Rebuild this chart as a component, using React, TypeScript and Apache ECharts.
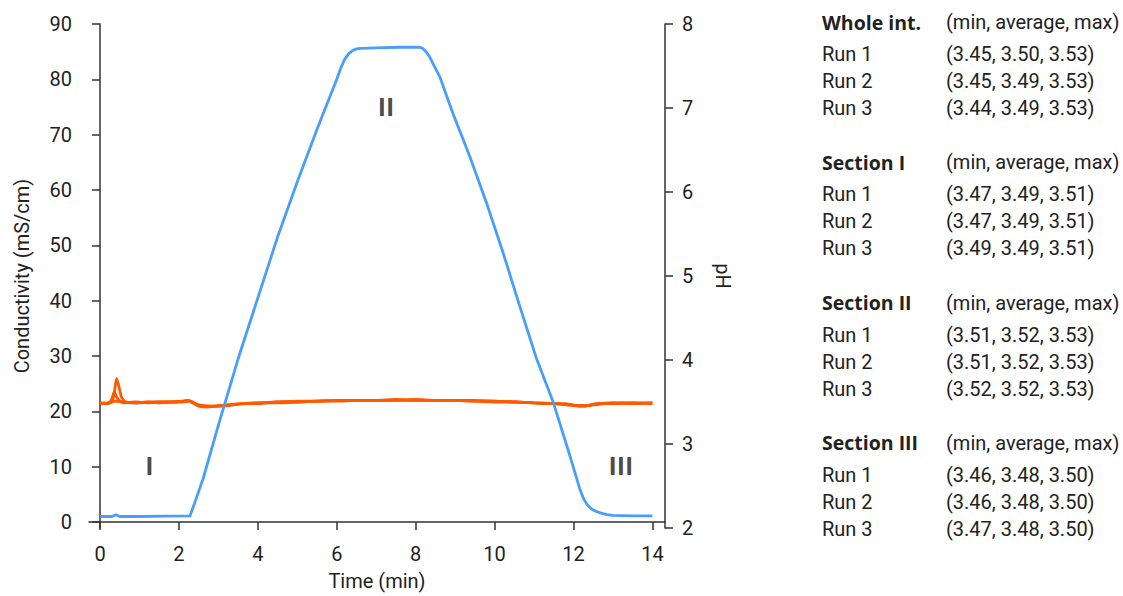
import React, { useEffect, useRef } from "react";
import * as echarts from "echarts";

const FONT = "Roboto";
const BOLD_FONT = "'Open Sans'";
const TEXT = "#222222";
const AXIS = "#333333";
const BLUE = "#4a9ef8";
const ORANGE = "#ff5a00";

const timeTicks = [0, 2, 4, 6, 8, 10, 12, 14];
const condTicks = [0, 10, 20, 30, 40, 50, 60, 70, 80, 90];

// Conductivity (mS/cm) vs time (min)
const conductivity: [number, number][] = [
  [0.0, 1.0], [0.3, 1.0], [0.4, 1.3], [0.5, 1.0], [1.0, 1.0], [1.6, 1.05], [2.28, 1.1],
  [2.45, 4.5], [2.62, 8.0], [3.0, 17.5], [3.5, 29.5], [4.0, 40.5], [4.5, 51.5],
  [5.0, 61.5], [5.5, 71.0], [6.0, 80.0], [6.1, 82.0], [6.2, 83.6], [6.3, 84.6], [6.4, 85.2],
  [6.5, 85.5], [6.6, 85.6], [7.0, 85.7], [7.6, 85.8], [8.1, 85.8], [8.18, 85.6], [8.26, 85.0],
  [8.35, 84.1], [8.45, 82.7], [8.61, 80.5], [8.94, 73.9], [9.37, 66.1], [9.79, 57.8],
  [10.21, 48.8], [10.63, 39.2], [11.06, 29.6], [11.48, 21.8], [11.9, 12.2], [12.15, 6.2],
  [12.25, 4.3], [12.35, 3.1], [12.45, 2.4], [12.55, 2.0], [12.7, 1.6], [12.85, 1.35],
  [13.0, 1.2], [13.5, 1.1], [14.0, 1.1],
];

// pH vs time (min), three runs
const phRun1: [number, number][] = [
  [0.0, 3.48], [0.1, 3.49], [0.2, 3.48], [0.3, 3.5], [0.35, 3.58], [0.42, 3.78], [0.48, 3.68],
  [0.55, 3.55], [0.65, 3.5], [0.8, 3.49], [1.0, 3.49], [1.3, 3.5], [1.6, 3.5], [1.9, 3.5],
  [2.1, 3.51], [2.25, 3.52], [2.35, 3.5], [2.5, 3.46], [2.7, 3.45], [3.0, 3.45], [3.3, 3.47],
  [3.6, 3.48], [4.0, 3.49], [4.5, 3.5], [5.0, 3.51], [5.5, 3.51], [6.0, 3.52], [6.5, 3.52],
  [7.0, 3.52], [7.5, 3.52], [8.0, 3.52], [8.5, 3.52], [9.0, 3.52], [9.5, 3.52], [10.0, 3.51],
  [10.5, 3.5], [11.0, 3.49], [11.5, 3.48], [11.8, 3.48], [12.0, 3.46], [12.2, 3.45],
  [12.4, 3.46], [12.6, 3.48], [13.0, 3.49], [13.5, 3.49], [14.0, 3.49],
];
const phRun2: [number, number][] = [
  [0.0, 3.49], [0.15, 3.48], [0.25, 3.5], [0.3, 3.54], [0.36, 3.62], [0.42, 3.56], [0.5, 3.51],
  [0.6, 3.49], [0.9, 3.5], [1.2, 3.49], [1.5, 3.5], [1.8, 3.5], [2.1, 3.51], [2.22, 3.52],
  [2.35, 3.49], [2.5, 3.45], [2.7, 3.44], [3.0, 3.45], [3.3, 3.46], [3.6, 3.48], [4.0, 3.48],
  [4.5, 3.5], [5.0, 3.5], [5.5, 3.51], [6.0, 3.51], [6.5, 3.52], [7.0, 3.52], [7.5, 3.53],
  [8.0, 3.52], [8.5, 3.52], [9.0, 3.52], [9.5, 3.51], [10.0, 3.51], [10.5, 3.5], [11.0, 3.49],
  [11.5, 3.48], [11.8, 3.47], [12.0, 3.46], [12.2, 3.45], [12.4, 3.46], [12.6, 3.48],
  [13.0, 3.48], [13.5, 3.49], [14.0, 3.48],
];
const phRun3: [number, number][] = [
  [0.0, 3.48], [0.2, 3.49], [0.4, 3.51], [0.6, 3.5], [0.9, 3.49], [1.2, 3.5], [1.5, 3.49],
  [1.8, 3.5], [2.1, 3.5], [2.25, 3.51], [2.4, 3.48], [2.55, 3.46], [2.8, 3.45], [3.1, 3.46],
  [3.4, 3.47], [3.7, 3.48], [4.0, 3.49], [4.5, 3.49], [5.0, 3.5], [5.5, 3.51], [6.0, 3.52],
  [6.5, 3.52], [7.0, 3.52], [7.5, 3.52], [8.0, 3.53], [8.5, 3.52], [9.0, 3.52], [9.5, 3.51],
  [10.0, 3.5], [10.5, 3.5], [11.0, 3.49], [11.5, 3.48], [11.8, 3.47], [12.1, 3.46], [12.3, 3.46],
  [12.6, 3.47], [13.0, 3.49], [13.5, 3.48], [14.0, 3.49],
];

// Section labels placed in data coordinates (time, conductivity)
const sectionMarks: { name: string; value: [number, number] }[] = [
  { name: "I", value: [1.25, 10.3] },
  { name: "II", value: [7.25, 75.2] },
  { name: "III", value: [13.2, 10.3] },
];

// Right-hand table of pH statistics
const tableSections = ["Whole int.", "Section I", "Section II", "Section III"];
const tableHeader = "(min, average, max)";
const runNames = ["Run 1", "Run 2", "Run 3"];
const tableStats: number[][][] = [
  [[3.45, 3.5, 3.53], [3.45, 3.49, 3.53], [3.44, 3.49, 3.53]],
  [[3.47, 3.49, 3.51], [3.47, 3.49, 3.51], [3.49, 3.49, 3.51]],
  [[3.51, 3.52, 3.53], [3.51, 3.52, 3.53], [3.52, 3.52, 3.53]],
  [[3.46, 3.48, 3.5], [3.46, 3.48, 3.5], [3.47, 3.48, 3.5]],
];

function buildTable() {
  const els: any[] = [];
  const colA = 822;
  const colB = 946;
  const top = 22;
  const blockH = 140.3;
  const mk = (text: string, x: number, y: number, bold: boolean) => ({
    type: "text",
    x,
    y,
    style: {
      text,
      x: 0,
      y: 0,
      fill: TEXT,
      font: bold ? `bold 19.5px ${BOLD_FONT}` : `20px ${FONT}`,
      textAlign: "left",
      textVerticalAlign: "middle",
      align: "left",
      verticalAlign: "middle",
    },
  });
  tableSections.forEach((sec, i) => {
    const y0 = top + i * blockH;
    els.push(mk(sec, colA, y0, true));
    els.push(mk(tableHeader, colB, y0, false));
    runNames.forEach((r, j) => {
      const y = y0 + 32 + j * 27;
      els.push(mk(r, colA, y, false));
      const s = tableStats[i][j].map((v) => v.toFixed(2)).join(", ");
      els.push(mk(`(${s})`, colB, y, false));
    });
  });
  return els;
}

export default function App() {
  const ref = useRef<HTMLDivElement>(null);
  useEffect(() => {
    if (!ref.current) return;
    const chart = echarts.init(ref.current, undefined, { renderer: "svg" });
    const axisLabel = { color: TEXT, fontSize: 20, fontFamily: FONT };
    const nameStyle = { color: TEXT, fontSize: 20, fontFamily: FONT };
    const phLine = (data: [number, number][]) => ({
      type: "line",
      xAxisIndex: 0,
      yAxisIndex: 1,
      data,
      symbol: "none",
      smooth: 0.2,
      lineStyle: { color: ORANGE, width: 2.8 },
      z: 2,
    });
    chart.setOption({
      animation: false,
      textStyle: { fontFamily: FONT },
      grid: { left: 89, right: 458, top: 24, bottom: 66 },
      xAxis: {
        type: "value",
        min: -0.28,
        max: 14.32,
        name: "Time (min)",
        nameLocation: "middle",
        nameGap: 43,
        nameTextStyle: nameStyle,
        axisLine: { show: true, lineStyle: { color: AXIS, width: 1.5 } },
        axisTick: { show: true, length: 8, lineStyle: { color: AXIS, width: 1.5 }, customValues: timeTicks },
        axisLabel: { ...axisLabel, margin: 16, customValues: timeTicks },
        splitLine: { show: false },
      },
      yAxis: [
        {
          type: "value",
          min: -1.08,
          max: 90,
          name: "Conductivity (mS/cm)",
          nameLocation: "middle",
          nameRotate: 90,
          nameGap: 57,
          nameTextStyle: nameStyle,
          axisLine: { show: true, lineStyle: { color: AXIS, width: 1.5 } },
          axisTick: { show: true, length: 8, lineStyle: { color: AXIS, width: 1.5 }, customValues: condTicks },
          axisLabel: { ...axisLabel, margin: 17, customValues: condTicks },
          splitLine: { show: false },
        },
        {
          type: "value",
          position: "right",
          min: 2,
          max: 8,
          interval: 1,
          name: "pH",
          nameLocation: "middle",
          nameRotate: -90,
          nameGap: 48,
          nameTextStyle: nameStyle,
          axisLine: { show: true, lineStyle: { color: AXIS, width: 1.5 } },
          axisTick: { show: true, length: 8, lineStyle: { color: AXIS, width: 1.5 } },
          axisLabel: { ...axisLabel, margin: 17 },
          splitLine: { show: false },
        },
      ],
      series: [
        phLine(phRun3),
        phLine(phRun2),
        phLine(phRun1),
        {
          type: "line",
          xAxisIndex: 0,
          yAxisIndex: 0,
          data: conductivity,
          symbol: "none",
          lineStyle: { color: BLUE, width: 2.8, join: "round" },
          z: 3,
        },
        {
          type: "scatter",
          xAxisIndex: 0,
          yAxisIndex: 0,
          data: sectionMarks,
          symbolSize: 0,
          silent: true,
          label: {
            show: true,
            position: "inside",
            formatter: (p: any) => p.name,
            color: "#1a1a1a",
            fontSize: 25,
            fontWeight: "bold",
            fontFamily: BOLD_FONT,
          },
          z: 4,
        },
      ],
      graphic: buildTable(),
    });
    return () => chart.dispose();
  }, []);
  return <div ref={ref} style={{ width: 1123, height: 596, position: "absolute", left: 0, top: 0 }} />;
}
